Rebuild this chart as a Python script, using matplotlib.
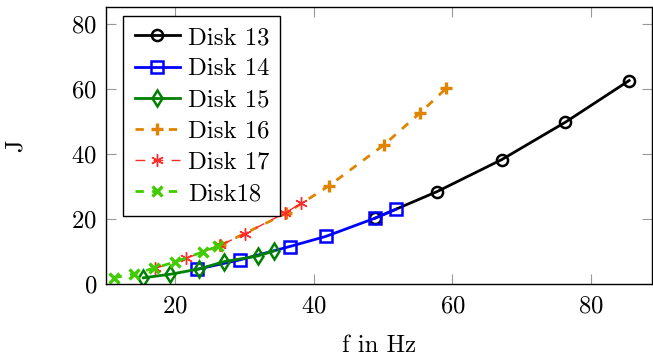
import matplotlib
matplotlib.use("Agg")
import matplotlib.pyplot as plt

plt.rcParams['font.family'] = ['cmr10', 'DejaVu Serif']
plt.rcParams['axes.formatter.use_mathtext'] = True
plt.rcParams['mathtext.fontset'] = 'cm'

# Measured energy J over frequency f for each disk
disk13_f = [48.8, 57.8, 67.1, 76.3, 85.5]
disk13_j = [20.2, 28.4, 38.2, 49.7, 62.5]

disk14_f = [23.1, 29.3, 36.5, 41.7, 48.8, 51.9]
disk14_j = [4.5, 7.4, 11.5, 14.6, 20.2, 23.0]

disk15_f = [15.4, 19.3, 23.4, 27.1, 31.9, 34.3]
disk15_j = [1.9, 3.0, 4.6, 6.9, 8.6, 10.2]

disk16_f = [26.5, 36.0, 42.2, 50.1, 55.3, 59.1]
disk16_j = [11.9, 21.7, 30.2, 42.7, 52.5, 60.1]

disk17_f = [17.1, 21.6, 26.5, 30.0, 35.9, 38.2]
disk17_j = [4.8, 7.9, 11.9, 15.4, 21.9, 24.8]

disk18_f = [11.1, 14.1, 17.0, 20.0, 24.0, 26.2]
disk18_j = [1.9, 3.1, 4.9, 6.8, 9.9, 11.6]

FS = 17.8

fig = plt.figure(figsize=(6.53, 3.57), dpi=100)
ax = fig.add_axes([0.1623, 0.2045, 0.8362, 0.7751])

ax.plot(disk13_f, disk13_j, color='black', lw=2.0, marker='o', ms=8,
        mfc='none', mew=1.8, label='Disk 13')
ax.plot(disk14_f, disk14_j, color='#0000ff', lw=2.0, marker='s', ms=8,
        mfc='none', mew=1.8, label='Disk 14')
ax.plot(disk15_f, disk15_j, color='#008000', lw=2.0, marker='d', ms=8,
        mfc='none', mew=1.8, label='Disk 15')
ax.plot(disk16_f, disk16_j, color='#e08400', lw=2.0, ls=(0, (3, 3)),
        marker='+', ms=9, mew=2.4, label='Disk 16')
ax.plot(disk17_f, disk17_j, color='#ff2a2a', lw=1.0, ls=(0, (7, 6)),
        marker=(6, 2, 0), ms=9, mew=1.0, label='Disk 17')
ax.plot(disk18_f, disk18_j, color='#3fcc00', lw=2.0, ls=(0, (3, 3)),
        marker='x', ms=7, mew=2.4, label='Disk18')

ax.set_xlim(10, 88.8)
ax.set_ylim(0, 85)
ax.set_xticks([20, 40, 60, 80])
ax.set_yticks([0, 20, 40, 60, 80])

ax.tick_params(direction='in', length=7, width=0.8, color='#999999',
               top=True, right=True, labelsize=FS)
ax.tick_params(axis='y', pad=6.5)
ax.tick_params(axis='x', pad=8)
for side in ax.spines.values():
    side.set_linewidth(1.0)

ax.set_xlabel('f in Hz', fontsize=FS, labelpad=13)
ax.set_ylabel('J', fontsize=FS, labelpad=32)

leg = ax.legend(loc='upper left', bbox_to_anchor=(0.032, 0.97),
                borderaxespad=0, fontsize=FS, frameon=True, fancybox=False,
                edgecolor='black', framealpha=1, handlelength=1.85,
                handletextpad=0.3, labelspacing=0.36, borderpad=0.45)
leg.get_frame().set_linewidth(1.0)

fig.savefig('out.png', dpi=100)
